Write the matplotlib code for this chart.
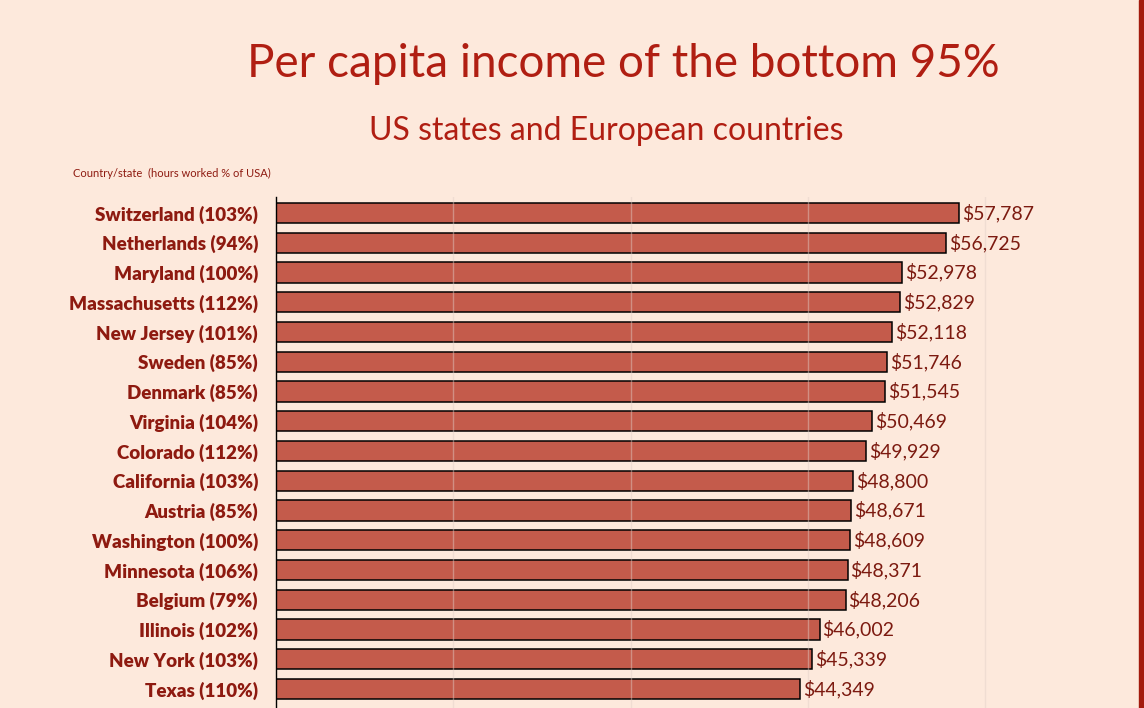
import matplotlib.pyplot as plt
from matplotlib.patches import Rectangle

# data, top to bottom
places = ['Switzerland', 'Netherlands', 'Maryland', 'Massachusetts', 'New Jersey',
          'Sweden', 'Denmark', 'Virginia', 'Colorado', 'California', 'Austria',
          'Washington', 'Minnesota', 'Belgium', 'Illinois', 'New York', 'Texas']
hours_pct = [103, 94, 100, 112, 101, 85, 85, 104, 112, 103, 85, 100, 106, 79, 102, 103, 110]
income = [57787, 56725, 52978, 52829, 52118, 51746, 51545, 50469, 49929, 48800,
          48671, 48609, 48371, 48206, 46002, 45339, 44349]

bg = '#fde9dc'
dark_red = '#b01e12'
label_red = '#8e1a10'

W, H = 1144, 708
fig = plt.figure(figsize=(W / 100, H / 100), dpi=100, facecolor=bg)
plt.rcParams['font.family'] = ['Lato', 'DejaVu Sans']

# axes spans x 276..1139 px, y 197..708 px
ax = fig.add_axes([276 / W, 0, (1139 - 276) / W, (708 - 197) / H])
ax.set_facecolor(bg)

y = list(range(len(places)))
ax.barh(y, income, height=0.68, color='#c45b4b', edgecolor='black', linewidth=1.1, zorder=2)
ax.set_xlim(0, 73030)
ax.set_ylim(16.64, -0.54)

for xv in [15000, 30000, 45000, 60000]:
    ax.axvline(xv, color='#e2d0c8', linewidth=1, alpha=0.45, zorder=3)

for yi, v in zip(y, income):
    ax.text(v + 250, yi, f'${v:,}', va='center', ha='left', fontsize=14,
            color='#7c1a10', zorder=4)

ax.set_yticks(y)
ax.set_yticklabels([f'{p} ({h}%)' for p, h in zip(places, hours_pct)],
                   fontsize=13.5, fontweight='heavy', color=label_red)
ax.tick_params(axis='y', length=0, pad=13)
ax.set_xticks([])
for s in ['top', 'right', 'bottom']:
    ax.spines[s].set_visible(False)
ax.spines['left'].set_color('black')
ax.spines['left'].set_linewidth(1)

fig.text(623 / W, 1 - 64 / H, 'Per capita income of the bottom 95%', ha='center', va='center',
         fontsize=33, color=dark_red)
fig.text(606 / W, 1 - 131 / H, 'US states and European countries', ha='center', va='center',
         fontsize=23, color=dark_red)
fig.text(73 / W, 1 - 173 / H, 'Country/state  (hours worked % of USA)', ha='left', va='center',
         fontsize=8, color=label_red)

fig.patches.append(Rectangle((1139 / W, 0), 5 / W, 1, transform=fig.transFigure,
                             color='#a31a0c', zorder=5))

fig.savefig('out.png', dpi=100, facecolor=bg)
